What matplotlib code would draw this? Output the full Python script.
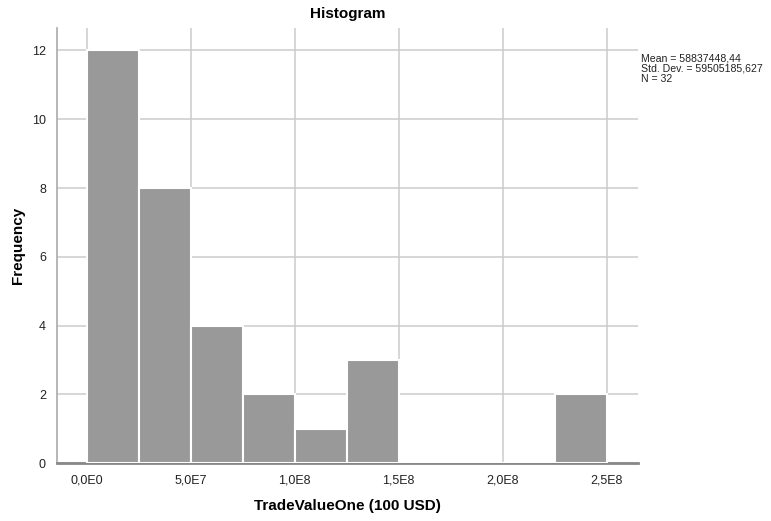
import numpy as np
import matplotlib.pyplot as plt

# histogram bins (bin width 2.5E7) and counts
bin_edges = [0, 2.5e7, 5.0e7, 7.5e7, 1.0e8, 1.25e8, 1.5e8, 1.75e8, 2.0e8, 2.25e8, 2.5e8]
counts = [12, 8, 4, 2, 1, 3, 0, 0, 0, 2]
xticks = [0, 5.0e7, 1.0e8, 1.5e8, 2.0e8, 2.5e8]
xtick_labels = ["0,0E0", "5,0E7", "1,0E8", "1,5E8", "2,0E8", "2,5E8"]
yticks = [0, 2, 4, 6, 8, 10, 12]
stats_text = "Mean = 58837448,44\nStd. Dev. = 59505185,627\nN = 32"

plt.rcParams['font.family'] = ['Liberation Sans', 'DejaVu Sans']

my_dpi = 100
fig = plt.figure(figsize=(771/my_dpi, 521/my_dpi), dpi=my_dpi)
ax = fig.add_axes([0.074, 0.111, 0.7535, 0.835])

left = np.array(bin_edges[:-1])
widths = np.diff(bin_edges)
ax.bar(left, counts, width=widths, align='edge', color='#999999',
       edgecolor='white', linewidth=1.5, zorder=3)

ax.set_xlim(-1.42e7, 2.65e8)
ax.set_ylim(0, 12.65)
ax.set_xticks(xticks)
ax.set_xticklabels(xtick_labels)
ax.set_yticks(yticks)
ax.tick_params(length=0, labelsize=9, colors='#222222', pad=8)

ax.grid(True, color='#cccccc', linewidth=1.1, zorder=0)
for side in ['top', 'right']:
    ax.spines[side].set_visible(False)
ax.spines['left'].set_color('#aaaaaa')
ax.spines['left'].set_linewidth(1.2)
ax.spines['bottom'].set_color('#888888')
ax.spines['bottom'].set_linewidth(2)

ax.set_title("Histogram", fontsize=11, fontweight='bold', pad=7)
ax.set_xlabel("TradeValueOne (100 USD)", fontsize=11, fontweight='bold', labelpad=9)
ax.set_ylabel("Frequency", fontsize=11, fontweight='bold', labelpad=5)

fig.text(0.831, 0.897, stats_text, fontsize=7.6, va='top', ha='left',
         linespacing=1.0, color='#222222')

plt.savefig("out.png", dpi=my_dpi)
